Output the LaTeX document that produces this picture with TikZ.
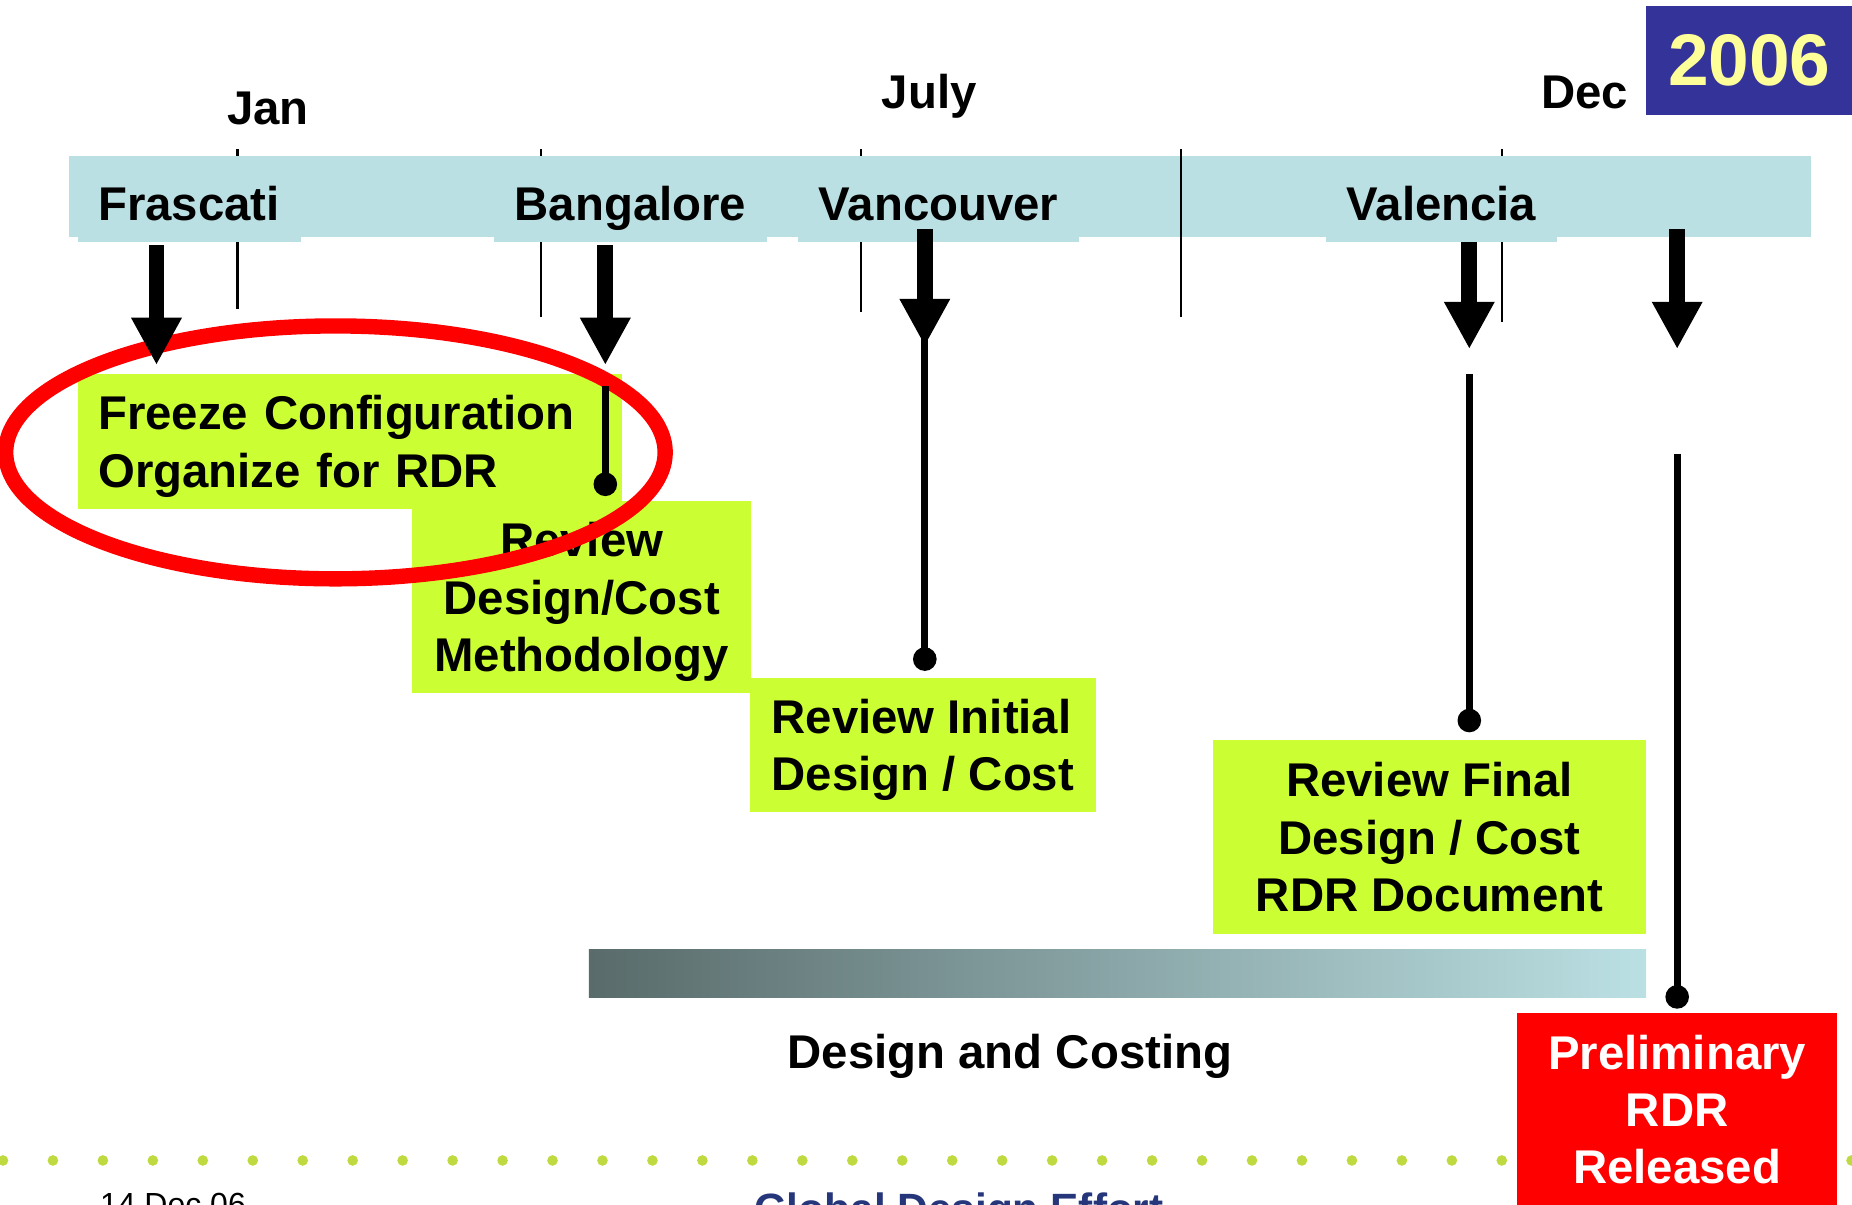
\documentclass[tikz,border=0pt]{standalone}
\usepackage{fontspec}
\setmainfont{Liberation Sans}
\usepackage{tikz}
\usetikzlibrary{arrows.meta}

\definecolor{barblue}{HTML}{BBE0E3}
\definecolor{boxgreen}{HTML}{CCFF33}
\definecolor{yearblue}{HTML}{333399}
\definecolor{yearyellow}{HTML}{FFFF99}
\definecolor{barshade}{HTML}{596B6B}
\definecolor{dotgreen}{HTML}{BFD940}
\definecolor{gdenavy}{HTML}{26367A}
\newcommand{\tlfont}{\fontsize{11.4}{13.8}\selectfont\bfseries}

\begin{document}
\begin{tikzpicture}[x=0.01cm,y=-0.01cm,font=\tlfont,
      place/.style={fill=barblue,inner xsep=0.175cm,inner ysep=0.1cm,text depth=0.077cm,anchor=base west},
      month/.style={anchor=base west,inner sep=0pt},
      task/.style={fill=boxgreen,inner ysep=0pt,inner xsep=0.175cm},
      tick/.style={line width=0.6pt},
      bigarrow/.style={line width=0.135cm,-{Triangle[length=0.4cm,width=0.4cm]}},
      stem/.style={line width=0.06cm},
      dot/.style={circle,fill,inner sep=0pt,minimum size=0.2cm}]
  \useasboundingbox (0,0) rectangle (1568,1020);
  \clip (0,0) rectangle (1568,1020);

  \coordinate (jan1) at (201,126);    \coordinate (jan2) at (201,262);
  \coordinate (ban1) at (458,126);    \coordinate (ban2) at (458,268);
  \coordinate (jul1) at (729,126);    \coordinate (jul2) at (729,264);
  \coordinate (mid1) at (1000,126);   \coordinate (mid2) at (1000,268);
  \coordinate (dec1) at (1271.6,126); \coordinate (dec2) at (1271.6,273);
  \draw[tick] (jan1) -- (jan2);
  \draw[tick] (ban1) -- (ban2);
  \draw[tick] (jul1) -- (jul2);
  \draw[tick] (dec1) -- (dec2);

  \fill[barblue] (58.5,132) rectangle (1533,201);
  \node[place] (fras) at (65,187) {Frascati};
  \node[place] (bang) at (417.5,187) {Bangalore};
  \node[place] (vanc) at (675,187) {Vancouver};
  \node[place] (vale) at (1122,187) {Valencia};
  \draw[tick] (mid1) -- (mid2);

  \node[month] (jan) at (191.5,105) {Jan};
  \node[month] (july) at (746,92) {July};
  \node[month] (dec) at (1304,92) {Dec};
  \node[fill=yearblue,text=yearyellow,font=\fontsize{17.6}{20}\selectfont\bfseries,
        minimum width=1.753cm,minimum height=0.92cm,anchor=north west] (year) at (1392.7,4.2) {2006};

  \foreach \k in {0,...,37}
    \fill[dotgreen] (2.5+42.3*\k,982.5) circle [radius=0.045cm];
  \node[anchor=base west,inner sep=0pt,font=\fontsize{7.7}{9}\selectfont\mdseries] (date) at (84,1029.4) {14 Dec 06};
  \node[anchor=base west,inner sep=0pt,text=gdenavy,font=\fontsize{10.2}{12}\selectfont\bfseries]
      (gde) at (637.7,1036) {Global Design Effort};

  \node[task,anchor=north west,minimum width=4.61cm,minimum height=1.14cm,text width=4.26cm,text depth=0.485cm,align=left]
      (freeze) at (65,316) {Freeze Configuration\\Organize for RDR};
  \node[task,minimum width=2.87cm,minimum height=1.63cm,text depth=0pt,align=center]
      (method) at (492.5,505.5) {Review\\Design/Cost\\Methodology};
  \node[task,anchor=north west,minimum width=2.93cm,minimum height=1.14cm,text depth=0pt,align=left]
      (initial) at (634,573) {Review Initial\\Design / Cost};
  \node[task,minimum width=3.67cm,minimum height=1.64cm,align=center]
      (final) at (1210.3,708.8) {Review Final\\Design / Cost\\RDR Document};
  \node[fill=red,text=white,inner ysep=0pt,minimum width=2.71cm,minimum height=1.63cm,align=center]
      (prel) at (1420,939.5) {Preliminary\\RDR\\Released};

  \shade[left color=barshade,right color=barblue] (498.5,803.7) rectangle (1393.6,844.5);
  \node[anchor=base] (costing) at (855,905) {Design and Costing};

  \draw[red,line width=0.13cm] (284,383) ellipse [x radius=2.79cm,y radius=1.07cm];

  \coordinate (fr1) at (132.5,207.5); \coordinate (fr2) at (132.5,309);
  \coordinate (ba1) at (512.5,207.5); \coordinate (ba2) at (512.5,309);
  \coordinate (ba3) at (512.5,327);   \node[dot] (bad) at (512.5,410) {};
  \coordinate (va1) at (783,194);     \coordinate (va2) at (783,293);
  \coordinate (va3) at (783,272);     \node[dot] (vad) at (783,558) {};
  \coordinate (vl1) at (1244,205);    \coordinate (vl2) at (1244,295.5);
  \coordinate (vl3) at (1244,316.5);  \node[dot] (vld) at (1244,610) {};
  \coordinate (de1) at (1420,194);    \coordinate (de2) at (1420,295.5);
  \coordinate (de3) at (1420,384);    \node[dot] (ded) at (1420,844) {};

  \draw[bigarrow] (fr1) -- (fr2);
  \draw[bigarrow] (ba1) -- (ba2);
  \draw[bigarrow] (va1) -- (va2);
  \draw[bigarrow] (vl1) -- (vl2);
  \draw[bigarrow] (de1) -- (de2);
  \draw[stem] (ba3) -- (bad.center);
  \draw[stem] (va3) -- (vad.center);
  \draw[stem] (vl3) -- (vld.center);
  \draw[stem] (de3) -- (ded.center);
\end{tikzpicture}
\end{document}
